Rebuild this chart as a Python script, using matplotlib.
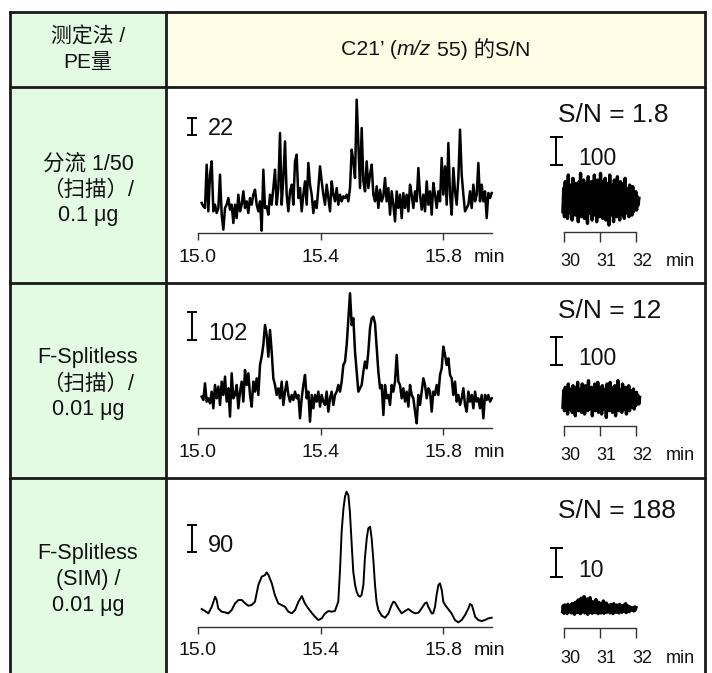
import numpy as np
import matplotlib
matplotlib.use("Agg")
import matplotlib.pyplot as plt
from matplotlib.patches import Rectangle
from matplotlib.transforms import ScaledTranslation

# ---------------- data ----------------
header_left = ["测定法 /", "PE量"]
header_title = [("C21’ (", "normal"), ("m/z", "italic"), ("55) 的S/N", "normal")]
row_labels = [["分流 1/50", "（扫描）/", "0.1 μg"],
              ["F-Splitless", "（扫描）/", "0.01 μg"],
              ["F-Splitless", "(SIM) /", "0.01 μg"]]
sn_values = ["1.8", "12", "188"]
main_bar_labels = ["22", "102", "90"]
inset_bar_labels = ["100", "100", "10"]
main_ticks = [15.0, 15.4, 15.8]
main_tick_labels = ["15.0", "15.4", "15.8"]
inset_ticks = [30, 31, 32]
inset_tick_labels = ["30", "31", "32"]
time_unit = "min"

# main chromatograms (retention time 15.0-15.96 min), relative intensity
scan_start, scan_end = 15.012, 15.959
row1_signal = [90, 80, 75, 205, 65, 175, 215, 65, 85, 60, 75, 175, 55, 10, 75, 85, 105, 70, 85, 30,
               85, 45, 115, 65, 85, 125, 75, 95, 60, 105, 85, 115, 130, 85, 65, 95, 7, 190, 75, 80,
               55, 115, 85, 135, 190, 85, 135, 300, 85, 165, 275, 115, 65, 125, 145, 85, 215, 235, 105, 135,
               65, 115, 155, 85, 210, 145, 115, 60, 95, 75, 135, 200, 155, 115, 85, 145, 105, 65, 155, 115,
               95, 135, 85, 115, 95, 110, 105, 115, 95, 135, 250, 215, 165, 400, 265, 135, 315, 155, 125, 215,
               135, 175, 205, 115, 95, 140, 75, 130, 95, 110, 165, 95, 135, 55, 125, 85, 35, 125, 75, 115,
               45, 120, 75, 115, 65, 145, 115, 75, 125, 95, 195, 115, 70, 115, 65, 155, 85, 125, 55, 150,
               115, 75, 125, 95, 225, 115, 200, 85, 270, 115, 55, 195, 125, 85, 165, 310, 175, 115, 65, 75,
               85, 125, 75, 145, 95, 115, 210, 95, 145, 95, 125, 45, 120, 105, 120]
row2_signal = [95, 85, 135, 80, 90, 75, 110, 60, 130, 90, 125, 70, 140, 100, 155, 80, 120, 35, 165, 90,
               100, 130, 60, 110, 140, 80, 175, 130, 165, 100, 65, 140, 110, 150, 100, 190, 215, 250, 310, 280,
               215, 295, 230, 150, 130, 100, 120, 90, 140, 70, 110, 140, 100, 80, 100, 85, 110, 90, 100, 30,
               90, 130, 160, 90, 110, 20, 100, 60, 100, 80, 110, 65, 100, 80, 70, 110, 50, 90, 110, 70,
               100, 110, 130, 110, 140, 190, 200, 250, 330, 405, 310, 330, 230, 170, 110, 120, 130, 170, 200, 180,
               230, 300, 330, 335, 315, 240, 170, 120, 130, 40, 130, 90, 100, 70, 130, 110, 140, 220, 140, 130,
               90, 120, 80, 110, 65, 130, 100, 90, 50, 15, 100, 70, 110, 150, 130, 90, 120, 110, 50, 110,
               100, 130, 100, 160, 180, 245, 220, 190, 210, 160, 150, 100, 140, 80, 100, 70, 90, 120, 70, 50,
               110, 80, 100, 60, 110, 80, 90, 60, 100, 30, 100, 85, 100, 80, 90]
row3_time = [15.012, 15.023, 15.034, 15.045, 15.056, 15.061, 15.066, 15.077, 15.088, 15.099,
             15.110, 15.121, 15.132, 15.143, 15.154, 15.164, 15.175, 15.186, 15.197, 15.208,
             15.219, 15.224, 15.230, 15.241, 15.251, 15.262, 15.273, 15.284, 15.295, 15.306,
             15.317, 15.328, 15.339, 15.349, 15.360, 15.371, 15.382, 15.393, 15.404, 15.415,
             15.426, 15.437, 15.447, 15.458, 15.464, 15.469, 15.475, 15.480, 15.485, 15.491,
             15.496, 15.502, 15.507, 15.513, 15.518, 15.524, 15.529, 15.534, 15.540, 15.545,
             15.551, 15.556, 15.562, 15.567, 15.573, 15.578, 15.583, 15.589, 15.600, 15.611,
             15.622, 15.632, 15.638, 15.643, 15.654, 15.665, 15.676, 15.687, 15.698, 15.709,
             15.720, 15.730, 15.741, 15.747, 15.752, 15.763, 15.768, 15.774, 15.779, 15.785,
             15.790, 15.796, 15.801, 15.807, 15.817, 15.828, 15.839, 15.850, 15.861, 15.872,
             15.883, 15.888, 15.894, 15.899, 15.905, 15.915, 15.926, 15.937, 15.948, 15.959]
row3_signal = [53, 47, 40, 60, 90, 80, 55, 45, 43, 40,
               50, 70, 80, 80, 70, 63, 65, 75, 125, 150,
               155, 163, 155, 130, 95, 70, 65, 60, 45, 40,
               50, 75, 92, 70, 55, 42, 30, 20, 25, 40,
               47, 45, 47, 75, 175, 285, 355, 390, 405, 395,
               345, 245, 165, 125, 105, 93, 90, 95, 125, 205,
               265, 295, 300, 265, 195, 125, 75, 50, 33, 27,
               40, 65, 75, 73, 55, 40, 47, 53, 45, 40,
               42, 55, 70, 73, 60, 40, 40, 60, 95, 125,
               130, 110, 75, 65, 53, 40, 20, 13, 20, 35,
               55, 68, 65, 50, 30, 20, 17, 20, 25, 27]

# noise windows (30-32 min), relative intensity
inset_time_ranges = [(29.97, 32.08), (29.97, 32.10), (29.96, 32.00)]
inset1_signal = [60, 130, 45, 150, 70, 120, 40, 170, 55, 140, 80, 125, 35, 160, 65, 110, 50, 145, 75, 135,
                 30, 150, 60, 175, 45, 120, 70, 155, 40, 130, 85, 145, 25, 165, 55, 115, 65, 150, 35, 140,
                 75, 170, 50, 125, 30, 155, 60, 135, 45, 175, 70, 120, 40, 150, 80, 160, 35, 130, 55, 145,
                 20, 170, 65, 115, 50, 140, 30, 155, 75, 125, 45, 165, 60, 135, 35, 150, 70, 120, 50, 145,
                 40, 160, 65, 130, 55, 110, 45, 140, 70, 125, 50, 135, 60, 115, 75, 120, 65, 105, 80, 100]
inset2_signal = [55, 105, 45, 115, 60, 100, 35, 125, 50, 110, 65, 95, 40, 120, 55, 105, 30, 115, 60, 130,
                 45, 100, 70, 110, 40, 125, 55, 95, 35, 120, 65, 105, 45, 135, 50, 100, 60, 115, 30, 110,
                 70, 125, 45, 100, 55, 130, 40, 105, 65, 115, 35, 120, 50, 95, 60, 110, 25, 125, 55, 105,
                 45, 130, 65, 100, 40, 115, 50, 120, 30, 105, 60, 135, 45, 110, 55, 100, 40, 125, 65, 95,
                 50, 115, 35, 110, 60, 120, 45, 105, 55, 100, 65, 110, 50, 95, 60, 100, 70, 90, 65, 85]
inset3_signal = [50, 68, 45, 70, 52, 66, 44, 72, 48, 64, 55, 70, 46, 74, 50, 66, 42, 78, 52, 68,
                 47, 85, 50, 72, 44, 90, 48, 70, 55, 95, 46, 76, 50, 88, 42, 74, 52, 92, 48, 70,
                 45, 80, 50, 72, 47, 86, 52, 68, 44, 78, 50, 74, 46, 70, 52, 82, 45, 68, 50, 76,
                 48, 70, 53, 66, 46, 72, 50, 68, 44, 74, 52, 66, 48, 70, 50, 64, 46, 72, 52, 68,
                 48, 66, 54, 70, 50, 74, 47, 68, 52, 66, 50, 64, 54, 62, 56, 60, 52, 64, 55, 62]

# scale bar lengths in the same relative units (bar value shown in label)
main_bar_len = [52, 84, 80]
main_bar_bottom = [294, 265, 225]
inset_bar_len = [85, 85, 86]
inset_bar_bottom = [200, 182, 155]

# ---------------- figure ----------------
W, H, DPI = 712, 673, 100
plt.rcParams['font.family'] = ['Liberation Sans', 'Noto Sans CJK SC', 'DejaVu Sans']
fig = plt.figure(figsize=(W / DPI, H / DPI), dpi=DPI)
fig.patch.set_facecolor('white')

tab = fig.add_axes([0, 0, 1, 1])
tab.set_xlim(0, W)
tab.set_ylim(H, 0)
tab.axis('off')

L, R, T, C, HB, B = 10, 705, 12, 166, 87, 700
row_edges = [HB, 283, 478, B]
MINT = '#e2fbe2'
CREAM = '#fffde6'
LC = '#1a1a1a'
LW = 2.0
tab.add_patch(Rectangle((L, T), C - L, B - T, fc=MINT, ec='none', zorder=0))
tab.add_patch(Rectangle((C, T), R - C, HB - T, fc=CREAM, ec='none', zorder=0))
kw = dict(color=LC, lw=LW, solid_capstyle='projecting', zorder=3)
tab.plot([L, L], [T, B], **kw)
tab.plot([R, R], [T, B], **kw)
tab.plot([C, C], [T, B], **kw)
for yy in [T] + row_edges[:-1]:
    tab.plot([L, R], [yy, yy], **kw)

TXT = '#111111'
# header
xc_left = (L + C) / 2
for i, s in enumerate(header_left):
    tab.text(xc_left, 49.5 + (i - 0.5) * 26, s, ha='center', va='center', fontsize=15, color=TXT)

renderer = fig.canvas.get_renderer()
pieces = []
gaps = [0, 0, 5.5]
for s, st in header_title:
    t = tab.text(0, 49.5, s, ha='left', va='center', fontsize=15.3, fontstyle=st, color=TXT)
    pieces.append((t, t.get_window_extent(renderer).width))
total = sum(w for _, w in pieces) + sum(gaps)
x = (C + R) / 2 - total / 2
for (t, w), g in zip(pieces, gaps):
    x += g
    t.set_x(x)
    x += w

# row labels
row_centers = [190, 384, 580]
for rc, lines in zip(row_centers, row_labels):
    for i, s in enumerate(lines):
        tab.text(xc_left, rc + (i - 1) * 26, s, ha='center', va='center', fontsize=15.5, color=TXT)


def make_panel(x0, x1, y_axis, height_px, xlim, ticks, labels, ticklen, pad, fs, label_dx, unit_x):
    ax = fig.add_axes([x0 / W, (H - y_axis) / H, (x1 - x0) / W, height_px / H])
    ax.set_xlim(*xlim)
    ax.set_ylim(0, 3 * height_px)
    ax.patch.set_visible(False)
    for s in ('top', 'right', 'left'):
        ax.spines[s].set_visible(False)
    ax.spines['bottom'].set_color('#333333')
    ax.spines['bottom'].set_linewidth(1.0)
    ax.set_yticks([])
    ax.set_xticks(ticks)
    ax.set_xticklabels(labels)
    ax.tick_params(axis='x', direction='out', length=ticklen, width=1.0, color='#333333',
                   pad=pad, labelsize=fs, labelcolor=TXT)
    off = ScaledTranslation(label_dx / DPI, 0, fig.dpi_scale_trans)
    for lab in ax.get_xticklabels():
        lab.set_transform(lab.get_transform() + off)
    trans, va, ha = ax.get_xaxis_text1_transform(ticklen + pad)
    ax.text(unit_x, 0, time_unit, transform=trans, va=va, ha='center', fontsize=fs, color=TXT)
    return ax


def scale_bar(ax, x, y0, length, label, label_x, fs, cap_px):
    ax.plot([x, x], [y0, y0 + length], color='k', lw=1.4, marker='_', ms=cap_px * 72 / DPI,
            mew=1.4, clip_on=False)
    ax.text(label_x, y0, label, ha='left', va='baseline', fontsize=fs, color=TXT, clip_on=False)


main_axis_y = [233, 428.3, 626.7]
inset_axis_y = [231.7, 425.7, 628.3]
sn_baseline = [121.7, 318.3, 518.3]
main_signals = [row1_signal, row2_signal, row3_signal]
inset_signals = [inset1_signal, inset2_signal, inset3_signal]

for i in range(3):
    ax = make_panel(198, 492, main_axis_y[i], 140, (15.0, 15.96), main_ticks, main_tick_labels,
                    5.0, 6.2, 14, 0, 15.952)
    if i < 2:
        tt = np.linspace(scan_start, scan_end, len(main_signals[i]))
        ax.plot(tt, main_signals[i], color='k', lw=1.8, solid_joinstyle='round', clip_on=False)
    else:
        ax.plot(row3_time, row3_signal, color='k', lw=1.4, solid_joinstyle='round', clip_on=False)
    scale_bar(ax, 14.979, main_bar_bottom[i], main_bar_len[i], main_bar_labels[i], 15.033, 17, 10)

    axi = make_panel(564, 636, inset_axis_y[i], 100, (30, 32), inset_ticks, inset_tick_labels,
                     7.0, 8.4, 13, 6, 33.22)
    t0, t1 = inset_time_ranges[i]
    ti = np.linspace(t0, t1, len(inset_signals[i]))
    axi.plot(ti, inset_signals[i], color='k', lw=2.4, solid_joinstyle='round', clip_on=False)
    scale_bar(axi, 29.79, inset_bar_bottom[i], inset_bar_len[i], inset_bar_labels[i], 30.39, 16.5, 13)

    tab.text(558, sn_baseline[i], f"S/N = {sn_values[i]}", ha='left', va='baseline', fontsize=19,
             color=TXT)

fig.savefig("out.png", dpi=DPI, facecolor='white')
